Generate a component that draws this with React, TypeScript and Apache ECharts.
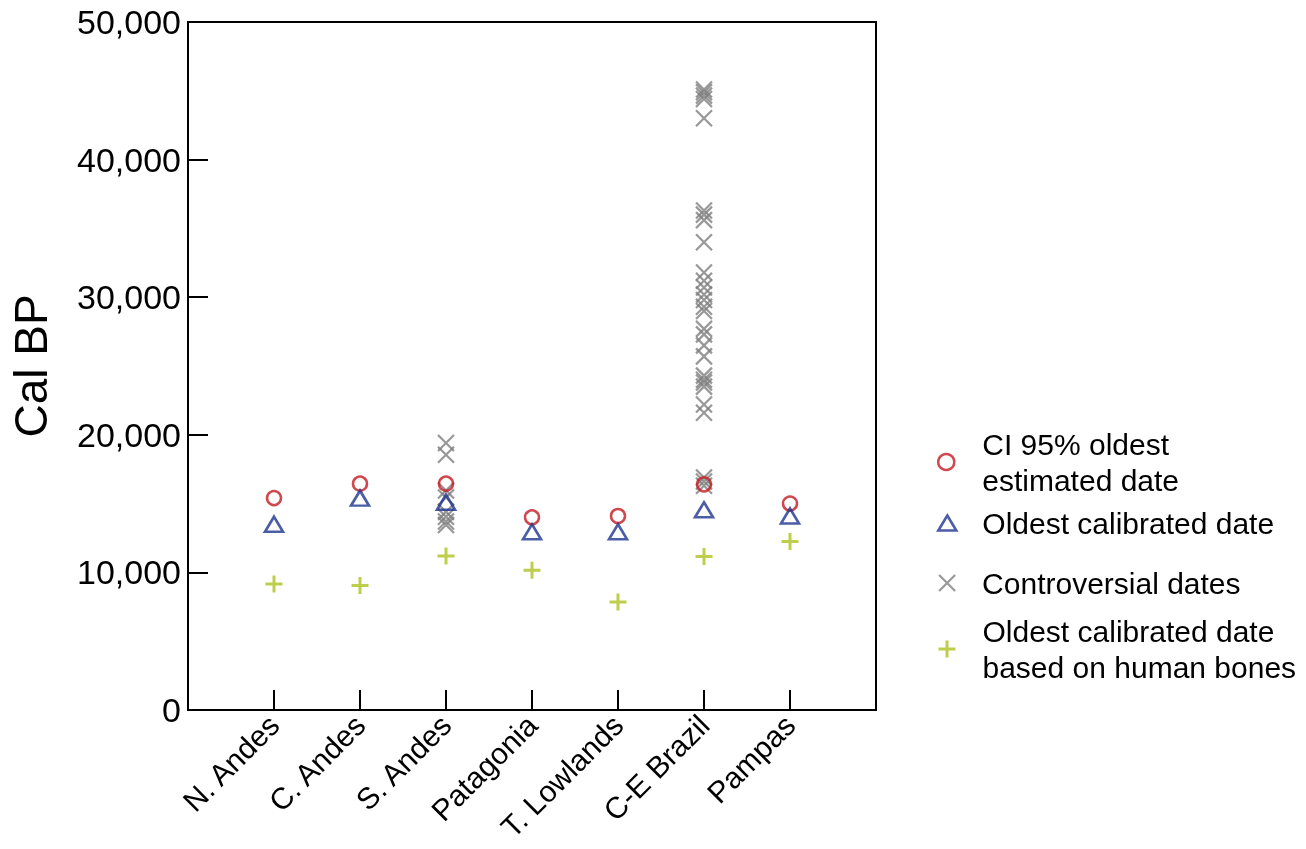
import React, { useEffect, useRef } from 'react';
import * as echarts from 'echarts';

// ---- data ----
const categories = ['N. Andes', 'C. Andes', 'S. Andes', 'Patagonia', 'T. Lowlands', 'C-E Brazil', 'Pampas'];
const axisCategories = ['', ...categories, ''];

const ciOldestEstimated = [15400, 16450, 16450, 14000, 14100, 16400, 15000];
const oldestCalibrated = [13500, 15400, 15100, 12950, 12950, 14550, 14100];
const oldestHumanBones = [9150, 9050, 11200, 10150, 7850, 11150, 12250];

const controversialSAndes = [19400, 18550, 15950, 15450, 14400, 14050, 13700, 13450];
const controversialCEBrazil = [
  45100, 44900, 44650, 44400, 43000, 36300, 36000, 35600, 34000, 31800, 31200, 30700, 30200, 29800,
  29300, 29000, 27700, 27300, 26500, 25700, 24300, 24000, 23800, 23500, 22200, 21600, 16900, 16600, 16300,
];

const yTicks = { min: 0, max: 50000, interval: 10000 };

const NAME_CI = 'CI 95% oldest\nestimated date';
const NAME_CAL = 'Oldest calibrated date';
const NAME_CON = 'Controversial dates';
const NAME_BONES = 'Oldest calibrated date\nbased on human bones';

const RED = '#C41A22';
const BLUE = '#1D3590';
const GRAY = '#7E7E7E';
const GREEN = '#AEC21F';
const FONT = "'Liberation Sans', Arial, Helvetica, sans-serif";

const X_PATH = 'path://M0,0L10,10M10,0L0,10';
const PLUS_PATH = 'path://M5,0L5,10M0,5L10,5';

export default function App() {
  const ref = useRef<HTMLDivElement>(null);

  useEffect(() => {
    const chart = echarts.init(ref.current as HTMLDivElement, null, { renderer: 'svg' });
    const pos = (name: string) => categories.indexOf(name) + 1;

    const legendText = (pad: number) => ({
      formatter: (name: string) =>
        name
          .split('\n')
          .map((l) => `{t|${l}}`)
          .join('\n'),
      textStyle: {
        rich: {
          t: { fontSize: 30, lineHeight: 36, color: '#000', fontFamily: FONT, padding: [0, 0, 0, pad] },
        },
      },
    });

    const legendBase = {
      orient: 'vertical',
      padding: 0,
      itemGap: 0,
      selectedMode: false,
    };

    const option = {
      animation: false,
      textStyle: { fontFamily: FONT },
      grid: {
        left: 188,
        right: 430,
        top: 22,
        bottom: 139,
        show: true,
        borderColor: '#000',
        borderWidth: 2,
        backgroundColor: 'transparent',
      },
      xAxis: {
        type: 'category',
        data: axisCategories,
        boundaryGap: false,
        axisLine: { show: true, lineStyle: { color: '#000', width: 2 } },
        axisTick: { show: true, inside: true, length: 20, interval: 0, lineStyle: { color: '#000', width: 2 } },
        axisLabel: { interval: 0, rotate: 45, fontSize: 30, color: '#000', margin: 10, fontFamily: FONT },
        splitLine: { show: false },
      },
      yAxis: {
        type: 'value',
        min: yTicks.min,
        max: yTicks.max,
        interval: yTicks.interval,
        name: 'Cal BP',
        nameLocation: 'middle',
        nameGap: 134,
        nameTextStyle: { fontSize: 46, color: '#000', fontFamily: FONT },
        axisLine: { show: true, lineStyle: { color: '#000', width: 2 } },
        axisTick: { show: true, inside: true, length: 20, lineStyle: { color: '#000', width: 2 } },
        axisLabel: {
          fontSize: 34,
          color: '#000',
          margin: 7,
          fontFamily: FONT,
          formatter: (v: number) => v.toLocaleString('en-US'),
        },
        splitLine: { show: false },
      },
      legend: [
        {
          ...legendBase,
          left: 937,
          top: 429,
          itemWidth: 16,
          itemHeight: 16,
          data: [{ name: NAME_CI, icon: 'circle' }],
          itemStyle: { color: 'transparent', borderColor: RED, borderWidth: 2.5 },
          ...legendText(23),
        },
        {
          ...legendBase,
          left: 937,
          top: 508,
          itemWidth: 18,
          itemHeight: 15,
          data: [{ name: NAME_CAL, icon: 'triangle' }],
          itemStyle: { color: 'transparent', borderColor: BLUE, borderWidth: 2.6 },
          ...legendText(21),
        },
        {
          ...legendBase,
          left: 938,
          top: 568,
          itemWidth: 16,
          itemHeight: 16,
          data: [{ name: NAME_CON, icon: X_PATH }],
          itemStyle: { color: 'transparent', borderColor: GRAY, borderWidth: 2.2 },
          ...legendText(22),
        },
        {
          ...legendBase,
          left: 937,
          top: 616,
          itemWidth: 17,
          itemHeight: 17,
          data: [{ name: NAME_BONES, icon: PLUS_PATH }],
          itemStyle: { color: 'transparent', borderColor: GREEN, borderWidth: 3 },
          ...legendText(22),
        },
      ],
      series: [
        {
          name: NAME_CON,
          type: 'scatter',
          symbol: X_PATH,
          symbolSize: 16,
          itemStyle: { color: 'transparent', borderColor: GRAY, borderWidth: 2.2 },
          data: [
            ...controversialSAndes.map((v) => [pos('S. Andes'), v]),
            ...controversialCEBrazil.map((v) => [pos('C-E Brazil'), v]),
          ],
          z: 2,
        },
        {
          name: NAME_CI,
          type: 'scatter',
          symbol: 'circle',
          symbolSize: 14,
          itemStyle: { color: 'transparent', borderColor: RED, borderWidth: 2.5 },
          data: ciOldestEstimated.map((v, i) => [i + 1, v]),
          z: 3,
        },
        {
          name: NAME_CAL,
          type: 'scatter',
          symbol: 'triangle',
          symbolSize: [18, 15],
          itemStyle: { color: 'transparent', borderColor: BLUE, borderWidth: 2.6 },
          data: oldestCalibrated.map((v, i) => [i + 1, v]),
          z: 4,
        },
        {
          name: NAME_BONES,
          type: 'scatter',
          symbol: PLUS_PATH,
          symbolSize: 17,
          itemStyle: { color: 'transparent', borderColor: GREEN, borderWidth: 3 },
          data: oldestHumanBones.map((v, i) => [i + 1, v]),
          z: 5,
        },
      ],
    };

    chart.setOption(option as any);
    return () => chart.dispose();
  }, []);

  return <div ref={ref} style={{ position: 'fixed', left: 0, top: 0, width: 1306, height: 849 }} />;
}
